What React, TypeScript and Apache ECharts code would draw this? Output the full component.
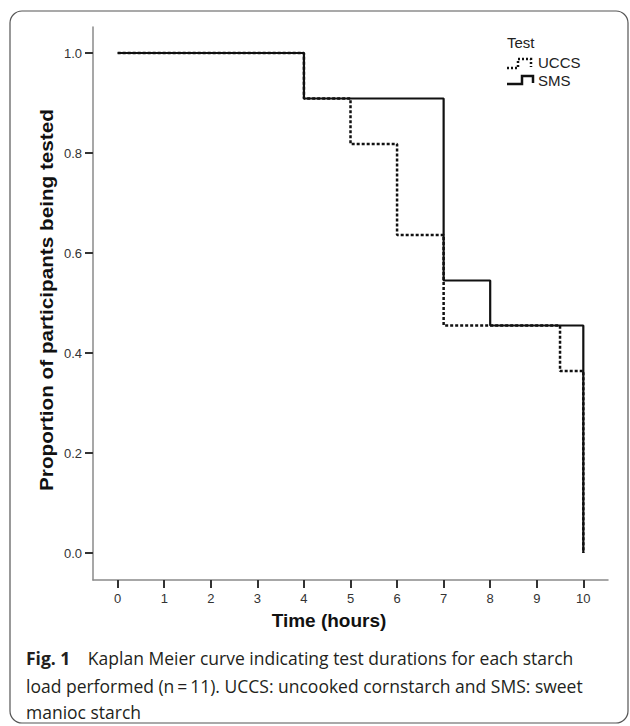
import React, { useEffect, useRef } from "react";
import * as echarts from "echarts";

const xTicks = [0, 1, 2, 3, 4, 5, 6, 7, 8, 9, 10];
const yTicks = [0, 0.2, 0.4, 0.6, 0.8, 1.0];
const smsTimes = [0, 4, 7, 8, 10];
const smsSurvival = [1, 0.909, 0.545, 0.455, 0];
const uccsTimes = [0, 4, 5, 6, 7, 9.5, 10];
const uccsSurvival = [1, 0.909, 0.818, 0.636, 0.455, 0.364, 0];
const seriesNames = ["UCCS", "SMS"];
const legendTitle = "Test";
const xTitle = "Time (hours)";
const yTitle = "Proportion of participants being tested";
const captionLead = "Fig. 1";
const captionLines = [
  "Kaplan Meier curve indicating test durations for each starch",
  "load performed (n\u2009=\u200911). UCCS: uncooked cornstarch and SMS: sweet",
  "manioc starch",
];

const FONT = "'Liberation Sans', Arial, sans-serif";
const CAP_FONT = "'Open Sans', Lato, sans-serif";

export default function App() {
  const ref = useRef<HTMLDivElement>(null);
  useEffect(() => {
    document.body.style.margin = "0";
    const chart = echarts.init(ref.current!, null, { renderer: "svg" });
    const axisCommon = {
      axisLine: { show: true, onZero: false, lineStyle: { color: "#8a8a8a", width: 1.5 } },
      axisTick: { show: true, length: 8, lineStyle: { color: "#333", width: 2 } },
      axisLabel: { color: "#333", fontSize: 13, fontFamily: FONT },
      splitLine: { show: false },
    };
    chart.setOption({
      animation: false,
      backgroundColor: "#fff",
      grid: { left: 93, top: 27, width: 515, height: 553, containLabel: false },
      xAxis: {
        type: "value",
        min: -0.53,
        max: 10.53,
        ...axisCommon,
        axisTick: { ...axisCommon.axisTick, customValues: xTicks },
        axisLabel: { ...axisCommon.axisLabel, margin: 12, customValues: xTicks, formatter: (v: number) => String(v) },
      },
      yAxis: {
        type: "value",
        min: -0.054,
        max: 1.052,
        ...axisCommon,
        axisTick: { ...axisCommon.axisTick, customValues: yTicks },
        axisLabel: { ...axisCommon.axisLabel, margin: 11, customValues: yTicks, formatter: (v: number) => v.toFixed(1) },
      },
      series: [
        {
          name: seriesNames[1],
          type: "line",
          step: "end",
          symbol: "none",
          data: smsTimes.map((t, i) => [t, smsSurvival[i]]),
          lineStyle: { color: "#111", width: 2.2, type: "solid" },
          z: 2,
        },
        {
          name: seriesNames[0],
          type: "line",
          step: "end",
          symbol: "none",
          data: uccsTimes.map((t, i) => [t, uccsSurvival[i]]),
          lineStyle: { color: "#111", width: 2.5, type: [3, 2] },
          z: 3,
        },
      ],
      graphic: [
        {
          type: "rect",
          shape: { x: 10, y: 11, width: 618, height: 712, r: 12 },
          style: { fill: "none", stroke: "#555", lineWidth: 1.2 },
          silent: true,
        },
        {
          type: "text",
          x: 46,
          y: 300,
          rotation: Math.PI / 2,
          scaleX: 1.12,
          style: {
            text: yTitle,
            font: `bold 18.5px ${FONT}`,
            fill: "#111",
            textAlign: "center",
            textVerticalAlign: "middle",
          },
        },
        {
          type: "text",
          x: 329,
          y: 620,
          style: {
            text: xTitle,
            font: `bold 19px ${FONT}`,
            fill: "#111",
            textAlign: "center",
            textVerticalAlign: "middle",
          },
        },
        {
          type: "text",
          x: 507,
          y: 42,
          style: { text: legendTitle, font: `15px ${FONT}`, fill: "#222", textAlign: "left", textVerticalAlign: "middle" },
        },
        {
          type: "polyline",
          shape: { points: [[507, 68], [518, 68], [518, 59], [531, 59], [531, 67]] },
          style: { stroke: "#111", lineWidth: 2.5, lineDash: [2, 2], fill: "none" },
        },
        {
          type: "text",
          x: 538,
          y: 62,
          style: { text: seriesNames[0], font: `15px ${FONT}`, fill: "#222", textAlign: "left", textVerticalAlign: "middle" },
        },
        {
          type: "polyline",
          shape: { points: [[507, 84], [522, 84], [522, 76], [533, 76], [533, 83]] },
          style: { stroke: "#111", lineWidth: 2.5, fill: "none" },
        },
        {
          type: "text",
          x: 538,
          y: 80,
          style: { text: seriesNames[1], font: `15px ${FONT}`, fill: "#222", textAlign: "left", textVerticalAlign: "middle" },
        },
        {
          type: "text",
          x: 26,
          y: 658,
          style: {
            text: "{b|" + captionLead + "}\u2002\u2002" + captionLines[0],
            font: `17.5px ${CAP_FONT}`,
            fill: "#231f20",
            textAlign: "left",
            textVerticalAlign: "middle",
            rich: { b: { fontWeight: "bold", fontSize: 17.5, fontFamily: CAP_FONT, fill: "#231f20" } },
          },
        },
        {
          type: "text",
          x: 26,
          y: 686,
          style: { text: captionLines[1], font: `17.5px ${CAP_FONT}`, fill: "#231f20", textAlign: "left", textVerticalAlign: "middle" },
        },
        {
          type: "text",
          x: 26,
          y: 712,
          style: { text: captionLines[2], font: `17.5px ${CAP_FONT}`, fill: "#231f20", textAlign: "left", textVerticalAlign: "middle" },
        },
      ],
    });
    return () => chart.dispose();
  }, []);
  return <div ref={ref} style={{ width: 630, height: 726 }} />;
}
